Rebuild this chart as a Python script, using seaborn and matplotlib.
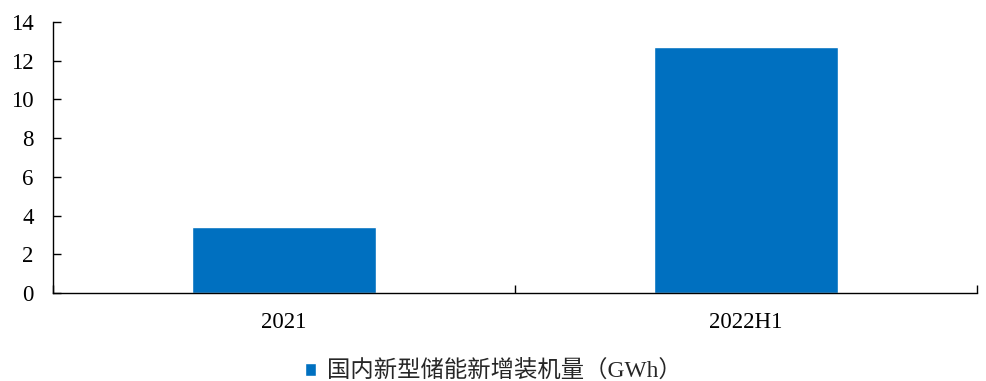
import matplotlib
matplotlib.use("Agg")
import matplotlib.pyplot as plt
import seaborn as sns
import pandas as pd

categories = ["2021", "2022H1"]
values = [3.4, 12.7]
series_name = "国内新型储能新增装机量（GWh）"
y_ticks = [0, 2, 4, 6, 8, 10, 12, 14]

sns.set_theme(style="white")
plt.rcParams["font.family"] = ["Liberation Serif", "Noto Sans CJK SC", "DejaVu Sans"]

df = pd.DataFrame({"period": categories, "value": values})

fig = plt.figure(figsize=(9.87, 3.81), dpi=100)
ax = fig.add_axes([0.0537, 0.231, 0.9362, 0.7113])

sns.barplot(data=df, x="period", y="value", color="#0070C0", width=0.4,
            saturation=1, label=series_name, ax=ax)

ax.set_xlim(-0.5, len(categories) - 0.5)
ax.set_ylim(0, 14)
ax.set_yticks(y_ticks)
ax.set_xlabel("")
ax.set_ylabel("")

for side in ["top", "right"]:
    ax.spines[side].set_visible(False)
for side in ["left", "bottom"]:
    ax.spines[side].set_color("black")
    ax.spines[side].set_linewidth(1.0)

# inward ticks on the value axis, category-boundary ticks on the x axis
ax.tick_params(axis="y", which="major", direction="in", length=5.5, width=1,
               color="black", labelsize=16.5, pad=14, left=True)
ax.tick_params(axis="x", which="major", length=0, labelsize=16.5, pad=14)
ax.set_xticks([i - 0.5 for i in range(len(categories) + 1)], minor=True)
ax.tick_params(axis="x", which="minor", direction="in", length=5.5, width=1,
               color="black", bottom=True)
for lbl in ax.get_yticklabels() + ax.get_xticklabels():
    lbl.set_color("black")

leg = ax.legend(loc="center", bbox_to_anchor=(0.5, 0.025), bbox_transform=fig.transFigure,
                frameon=False, fontsize=16.8, handlelength=0.45, handleheight=0.45,
                handletextpad=0.5)

fig.savefig("out.png", dpi=100)
